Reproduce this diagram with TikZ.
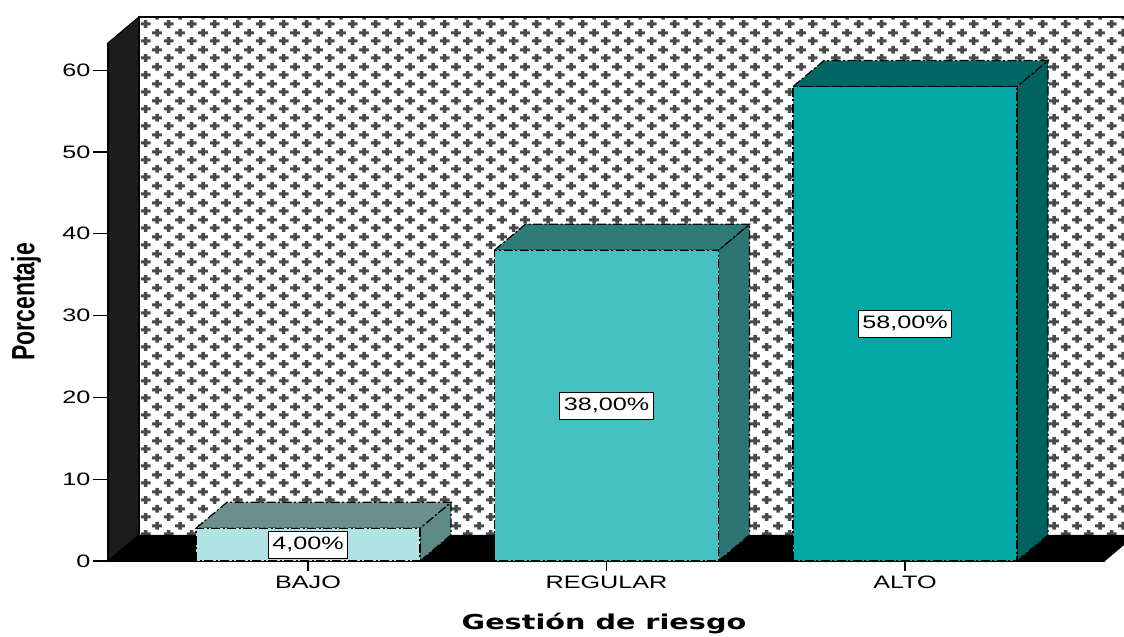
\documentclass[tikz,border=0pt]{standalone}
\usepackage{fontspec}
\setmainfont{Liberation Sans}
\newfontfamily\titlefont{DejaVu Sans}
\usetikzlibrary{positioning,patterns.meta}

\definecolor{wallgray}{HTML}{1C1C1C}
\definecolor{crossgray}{HTML}{4A4A4A}
\definecolor{bajoF}{HTML}{B0E3E3}
\definecolor{bajoT}{HTML}{6B8E8E}
\definecolor{bajoS}{HTML}{5E8987}
\definecolor{regF}{HTML}{45C1C2}
\definecolor{regT}{HTML}{2E7B79}
\definecolor{regS}{HTML}{2E7472}
\definecolor{altoF}{HTML}{00A7A5}
\definecolor{altoT}{HTML}{006764}
\definecolor{altoS}{HTML}{00625E}

\pgfdeclarepattern{
	name=plusgrid,
	type=uncolored,
	bottom left={\pgfpoint{0bp}{0bp}},
	top right={\pgfpoint{23.4bp}{16.6bp}},
	tile size={\pgfpoint{23.4bp}{16.6bp}},
	code={
		\pgfpathrectangle{\pgfpoint{0.85bp}{2.65bp}}{\pgfpoint{10bp}{3bp}}
		\pgfpathrectangle{\pgfpoint{4.1bp}{0.15bp}}{\pgfpoint{3.5bp}{8bp}}
		\pgfpathrectangle{\pgfpoint{12.55bp}{10.95bp}}{\pgfpoint{10bp}{3bp}}
		\pgfpathrectangle{\pgfpoint{15.8bp}{8.45bp}}{\pgfpoint{3.5bp}{8bp}}
		\pgfusepath{fill}
	}
}

\tikzset{
	edge/.style={draw=black,line width=1.2bp,dash pattern=on 9bp off 2.5bp on 2bp off 2.5bp},
	pct/.style={draw=black,fill=white,line width=1.1bp,inner xsep=4bp,inner ysep=0pt,minimum height=27bp,font=\fontsize{18bp}{21bp}\selectfont},
	ticklab/.style={font=\fontsize{18bp}{21bp}\selectfont}
}
\newcommand{\wide}[1]{\scalebox{1.4}[1]{#1}}

\begin{document}
\begin{tikzpicture}[x=1bp,y=1bp]
	
	\def\dx{31}
	\def\dy{26}
	\def\yz{76}
	\def\uy{8.18}
	\def\xl{108}
	\def\xr{1105}
	\def\bw{112}
	\useasboundingbox (0,0) rectangle (1124,637);
	\clip (0,0) rectangle (1124,637);
	
	%Mur du fond
	\coordinate (W0) at (\xl+\dx,\yz+\dy);
	\coordinate (W1) at (\xr+\dx,620);
	\fill[white] (W0) rectangle (W1);
	\fill[pattern=plusgrid,pattern color=crossgray] (W0) rectangle (W1);
	\draw[line width=1.5bp] (W0) |- (W1);
	
	%Mur gauche et sol
	\filldraw[fill=wallgray,draw=black,line width=1.2bp] (\xl,\yz) -- (\xl,594) -- (\xl+\dx,620) -- (W0) -- cycle;
	\fill[black] (\xl,\yz) -- (\xr,\yz) -- (\xr+\dx,\yz+\dy) -- (W0) -- cycle;
	
	%Axes
	\draw[line width=1.5bp] (\xl,594) -- (\xl,\yz) -- (\xr,\yz);
	\foreach \v in {0,10,...,60} {
		\draw[line width=1.3bp] (\xl,\yz+\v*\uy) -- ++(-15,0) node[left,inner sep=2bp,ticklab] {\wide{\v}};
	}
	
	%Barres
	\foreach \cx/\v/\fr/\tp/\sd/\lab/\nm in {308/4/bajoF/bajoT/bajoS/BAJO/bajo,606.5/38/regF/regT/regS/REGULAR/regular,905/58/altoF/altoT/altoS/ALTO/alto} {
		\pgfmathsetmacro\h{\yz+\v*\uy}
		\filldraw[fill=\sd,edge] (\cx+\bw,\yz) -- (\cx+\bw+\dx,\yz+\dy) -- (\cx+\bw+\dx,\h+\dy) -- (\cx+\bw,\h) -- cycle;
		\filldraw[fill=\tp,edge] (\cx-\bw,\h) -- (\cx-\bw+\dx,\h+\dy) -- (\cx+\bw+\dx,\h+\dy) -- (\cx+\bw,\h) -- cycle;
		\filldraw[fill=\fr,edge] (\cx-\bw,\yz) rectangle (\cx+\bw,\h);
		\node[pct] (p-\nm) at (\cx,{(\yz+\h)/2}) {\wide{\v,00\%}};
		\draw[line width=1.3bp] (\cx,\yz) -- (\cx,\yz-10) coordinate (t-\nm);
		\node[ticklab,below=1bp of t-\nm] (x-\nm) {\wide{\lab}};
	}
	
	%Titres
	\node[anchor=base] (titre) at (604,7) {\titlefont\fontsize{20.5bp}{24bp}\selectfont\bfseries\wide{Gesti\'on de riesgo}};
	\node[rotate=90] (ylab) at (26,335) {\fontsize{23bp}{26bp}\selectfont\bfseries\scalebox{1}[1.4]{Porcentaje}};
	
\end{tikzpicture}
\end{document}
